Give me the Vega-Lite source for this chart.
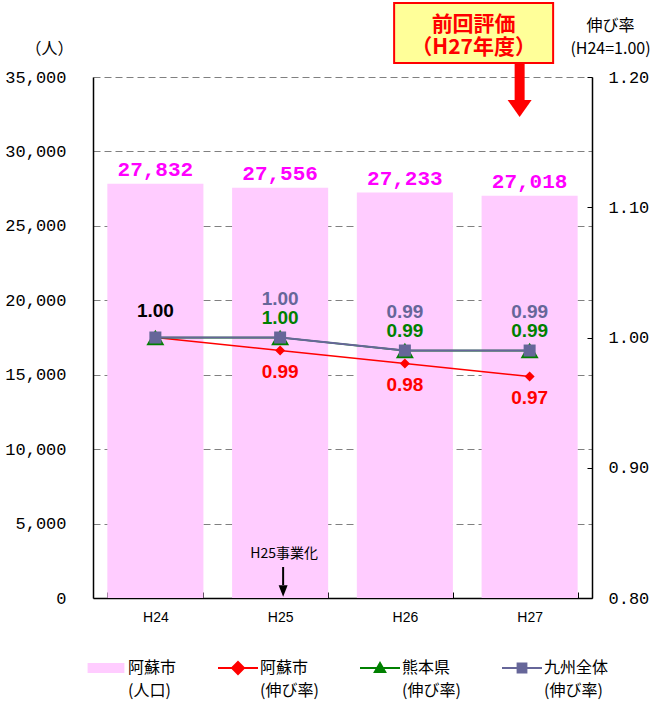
{
  "$schema": "https://vega.github.io/schema/vega-lite/v6.json",
  "width": 499,
  "height": 521,
  "autosize": {"type": "none"},
  "padding": {"left": 93, "top": 77, "right": 65, "bottom": 103},
  "background": "white",
  "config": {
    "view": {"stroke": null},
    "axis": {"labelColor": "#000000", "domainColor": "#000000", "tickColor": "#000000", "titleColor": "#000000", "titleFontWeight": "normal"}
  },
  "datasets": {
    "pop": [
      {"year": "H24", "population": 27832},
      {"year": "H25", "population": 27556},
      {"year": "H26", "population": 27233},
      {"year": "H27", "population": 27018}
    ],
    "rate": [
      {"year": "H24", "series": "阿蘇市(伸び率)", "rate": 1.00},
      {"year": "H25", "series": "阿蘇市(伸び率)", "rate": 0.99},
      {"year": "H26", "series": "阿蘇市(伸び率)", "rate": 0.98},
      {"year": "H27", "series": "阿蘇市(伸び率)", "rate": 0.97},
      {"year": "H24", "series": "熊本県(伸び率)", "rate": 1.00},
      {"year": "H25", "series": "熊本県(伸び率)", "rate": 1.00},
      {"year": "H26", "series": "熊本県(伸び率)", "rate": 0.99},
      {"year": "H27", "series": "熊本県(伸び率)", "rate": 0.99},
      {"year": "H24", "series": "九州全体(伸び率)", "rate": 1.00},
      {"year": "H25", "series": "九州全体(伸び率)", "rate": 1.00},
      {"year": "H26", "series": "九州全体(伸び率)", "rate": 0.99},
      {"year": "H27", "series": "九州全体(伸び率)", "rate": 0.99}
    ]
  },
  "layer": [
    {
      "layer": [
        {
          "data": {"name": "pop"},
          "mark": {"type": "bar", "color": "#FFCCFF"},
          "encoding": {
            "x": {
              "field": "year", "type": "nominal", "sort": null,
              "scale": {"type": "band", "paddingInner": 0.23, "paddingOuter": 0.115},
              "axis": {"title": null, "labelAngle": 0, "labelFont": "Liberation Sans", "labelFontSize": 14, "labelPadding": 18, "tickBand": "extent", "tickSize": -6, "domainWidth": 1.5, "domainColor": "#000000"}
            },
            "y": {
              "field": "population", "type": "quantitative",
              "scale": {"domain": [0, 35000], "nice": false},
              "axis": {
                "values": [0, 5000, 10000, 15000, 20000, 25000, 30000, 35000],
                "format": ",.0f", "ticks": false, "labelPadding": 27,
                "labelFont": "Liberation Mono", "labelFontSize": 17,
                "grid": true, "gridColor": "#808080", "gridDash": [7, 4], "gridWidth": 1,
                "domainWidth": 1.5,
                "title": "（人）", "titleAngle": 0, "titleFont": "Noto Sans CJK JP", "titleFontSize": 16,
                "titleAlign": "center", "titleBaseline": "middle", "titleX": -44, "titleY": -29
              }
            },
            "color": {
              "datum": "阿蘇市(人口)", "type": "nominal",
              "scale": {
                "domain": ["阿蘇市(人口)", "阿蘇市(伸び率)", "熊本県(伸び率)", "九州全体(伸び率)"],
                "range": ["#FFCCFF", "#FF0000", "#008000", "#666699"]
              },
              "legend": {
                "title": null, "orient": "none", "legendX": 5, "legendY": 583,
                "direction": "horizontal", "columns": 4, "columnPadding": 37,
                "symbolSize": 1600, "labelOffset": 14,
                "labelFont": "Noto Sans CJK JP", "labelFontSize": 16, "labelColor": "#000000",
                "labelExpr": "[slice(datum.label, 0, indexof(datum.label, '(')), slice(datum.label, indexof(datum.label, '('))]",
                "encode": {
                  "symbols": {
                    "update": {
                      "shape": {"signal": "datum.value == '阿蘇市(人口)' ? 'M-0.92,-0.25H0.92V0.25H-0.92Z' : datum.value == '阿蘇市(伸び率)' ? 'M-1,0H1M0,-0.3L0.3,0L0,0.3L-0.3,0Z' : datum.value == '熊本県(伸び率)' ? 'M-1,0H1M0,-0.25L0.26,0.2L-0.26,0.2Z' : 'M-1,0H1M-0.22,-0.22H0.22V0.22H-0.22Z'"},
                      "fill": {"scale": "color", "field": "value"},
                      "stroke": {"scale": "color", "field": "value"},
                      "strokeWidth": {"signal": "datum.value == '阿蘇市(人口)' ? 0 : 2"},
                      "opacity": {"value": 1},
                      "fillOpacity": {"value": 1},
                      "strokeOpacity": {"value": 1}
                    }
                  },
                  "labels": {
                    "update": {
                      "lineHeight": {"value": 23}
                    }
                  }
                }
              }
            }
          }
        },
        {
          "data": {"name": "pop"},
          "mark": {"type": "text", "font": "Liberation Mono", "fontSize": 21, "fontWeight": "bold", "color": "#FF00FF", "baseline": "bottom", "dy": -4},
          "encoding": {
            "x": {"field": "year", "type": "nominal", "sort": null, "scale": {"type": "band", "paddingInner": 0.23, "paddingOuter": 0.115}},
            "y": {"field": "population", "type": "quantitative"},
            "text": {"field": "population", "type": "quantitative", "format": ","}
          }
        },
        {
          "data": {"values": [{}]},
          "mark": {"type": "bar", "fill": "#FFFF99", "stroke": "#FF0000", "strokeWidth": 2, "width": 159, "xOffset": -56},
          "encoding": {
            "x": {"datum": "H27", "type": "nominal", "scale": {"type": "band", "paddingInner": 0.23, "paddingOuter": 0.115}},
            "y": {"datum": 39971, "type": "quantitative"},
            "y2": {"datum": 35940}
          }
        },
        {
          "data": {"values": [{}]},
          "mark": {"type": "text", "text": ["前回評価", "（H27年度）"], "font": "Noto Sans CJK JP", "fontSize": 21, "fontWeight": "bold", "color": "#FF0000", "lineHeight": 23, "baseline": "middle", "align": "center", "xOffset": -56},
          "encoding": {
            "x": {"datum": "H27", "type": "nominal", "scale": {"type": "band", "paddingInner": 0.23, "paddingOuter": 0.115}},
            "y": {"datum": 38493, "type": "quantitative"}
          }
        },
        {
          "data": {"values": [{}]},
          "mark": {"type": "rule", "color": "#FF0000", "strokeWidth": 10, "xOffset": -10},
          "encoding": {
            "x": {"datum": "H27", "type": "nominal", "scale": {"type": "band", "paddingInner": 0.23, "paddingOuter": 0.115}},
            "y": {"datum": 35940, "type": "quantitative"},
            "y2": {"datum": 33321}
          }
        },
        {
          "data": {"values": [{}]},
          "mark": {"type": "point", "shape": "M-1,-0.7L1,-0.7L0,0.7Z", "filled": true, "color": "#FF0000", "opacity": 1, "size": 576, "xOffset": -10},
          "encoding": {
            "x": {"datum": "H27", "type": "nominal", "scale": {"type": "band", "paddingInner": 0.23, "paddingOuter": 0.115}},
            "y": {"datum": 32884, "type": "quantitative"}
          }
        },
        {
          "data": {"values": [{}]},
          "mark": {"type": "text", "text": "H25事業化", "font": "Noto Sans CJK JP", "fontSize": 14, "color": "#000000", "baseline": "middle", "align": "center", "xOffset": 4},
          "encoding": {
            "x": {"datum": "H25", "type": "nominal", "scale": {"type": "band", "paddingInner": 0.23, "paddingOuter": 0.115}},
            "y": {"datum": 2956, "type": "quantitative"}
          }
        },
        {
          "data": {"values": [{}]},
          "mark": {"type": "rule", "color": "#000000", "strokeWidth": 2, "xOffset": 3},
          "encoding": {
            "x": {"datum": "H25", "type": "nominal", "scale": {"type": "band", "paddingInner": 0.23, "paddingOuter": 0.115}},
            "y": {"datum": 2083, "type": "quantitative"},
            "y2": {"datum": 873}
          }
        },
        {
          "data": {"values": [{}]},
          "mark": {"type": "point", "shape": "M-1,-1.3L1,-1.3L0,1.3Z", "filled": true, "color": "#000000", "opacity": 1, "size": 81, "xOffset": 3},
          "encoding": {
            "x": {"datum": "H25", "type": "nominal", "scale": {"type": "band", "paddingInner": 0.23, "paddingOuter": 0.115}},
            "y": {"datum": 470, "type": "quantitative"}
          }
        }
      ]
    },
    {
      "data": {"name": "rate"},
      "layer": [
        {
          "mark": {"type": "line"},
          "encoding": {
            "x": {"field": "year", "type": "nominal", "sort": null, "scale": {"type": "band", "paddingInner": 0.23, "paddingOuter": 0.115}},
            "y": {
              "field": "rate", "type": "quantitative",
              "scale": {"domain": [0.8, 1.2], "nice": false, "zero": false},
              "axis": {
                "orient": "right", "values": [0.8, 0.9, 1.0, 1.1, 1.2], "format": ".2f",
                "tickSize": -5, "labelPadding": 21, "grid": false,
                "labelFont": "Liberation Mono", "labelFontSize": 17, "domainWidth": 1.5,
                "title": ["伸び率", "(H24=1.00)"], "titleAngle": 0, "titleFont": "Noto Sans CJK JP", "titleFontSize": 16,
                "titleAlign": "center", "titleBaseline": "top", "titleLineHeight": 23, "titleX": 18, "titleY": -60
              }
            },
            "color": {"field": "series", "type": "nominal", "sort": null, "legend": {"title": null}},
            "strokeWidth": {"field": "series", "type": "nominal", "scale": {"domain": ["阿蘇市(伸び率)", "熊本県(伸び率)", "九州全体(伸び率)"], "range": [1.5, 2, 2]}, "legend": null}
          }
        },
        {
          "transform": [{"filter": "datum.series == '阿蘇市(伸び率)'"}],
          "mark": {"type": "point", "shape": "diamond", "size": 100, "filled": true, "opacity": 1, "color": "#FF0000"},
          "encoding": {
            "x": {"field": "year", "type": "nominal", "sort": null, "scale": {"type": "band", "paddingInner": 0.23, "paddingOuter": 0.115}},
            "y": {"field": "rate", "type": "quantitative"}
          }
        },
        {
          "transform": [{"filter": "datum.series == '熊本県(伸び率)'"}],
          "mark": {"type": "point", "shape": "triangle-up", "size": 324, "filled": true, "opacity": 1, "color": "#008000"},
          "encoding": {
            "x": {"field": "year", "type": "nominal", "sort": null, "scale": {"type": "band", "paddingInner": 0.23, "paddingOuter": 0.115}},
            "y": {"field": "rate", "type": "quantitative"}
          }
        },
        {
          "transform": [{"filter": "datum.series == '九州全体(伸び率)'"}],
          "mark": {"type": "point", "shape": "square", "size": 144, "filled": true, "opacity": 1, "color": "#666699"},
          "encoding": {
            "x": {"field": "year", "type": "nominal", "sort": null, "scale": {"type": "band", "paddingInner": 0.23, "paddingOuter": 0.115}},
            "y": {"field": "rate", "type": "quantitative"}
          }
        },
        {
          "transform": [{"filter": "datum.series == '阿蘇市(伸び率)' && datum.year != 'H24'"}],
          "mark": {"type": "text", "font": "Liberation Sans", "fontSize": 19, "fontWeight": "bold", "color": "#FF0000", "baseline": "middle", "dy": 21},
          "encoding": {
            "x": {"field": "year", "type": "nominal", "sort": null, "scale": {"type": "band", "paddingInner": 0.23, "paddingOuter": 0.115}},
            "y": {"field": "rate", "type": "quantitative"},
            "text": {"field": "rate", "type": "quantitative", "format": ".2f"}
          }
        },
        {
          "transform": [{"filter": "datum.series == '阿蘇市(伸び率)' && datum.year == 'H24'"}],
          "mark": {"type": "text", "font": "Liberation Sans", "fontSize": 19, "fontWeight": "bold", "color": "#000000", "baseline": "middle", "dy": -27},
          "encoding": {
            "x": {"field": "year", "type": "nominal", "sort": null, "scale": {"type": "band", "paddingInner": 0.23, "paddingOuter": 0.115}},
            "y": {"field": "rate", "type": "quantitative"},
            "text": {"field": "rate", "type": "quantitative", "format": ".2f"}
          }
        },
        {
          "transform": [{"filter": "datum.series == '熊本県(伸び率)' && datum.year != 'H24'"}],
          "mark": {"type": "text", "font": "Liberation Sans", "fontSize": 19, "fontWeight": "bold", "color": "#008000", "baseline": "middle", "dy": -20},
          "encoding": {
            "x": {"field": "year", "type": "nominal", "sort": null, "scale": {"type": "band", "paddingInner": 0.23, "paddingOuter": 0.115}},
            "y": {"field": "rate", "type": "quantitative"},
            "text": {"field": "rate", "type": "quantitative", "format": ".2f"}
          }
        },
        {
          "transform": [{"filter": "datum.series == '九州全体(伸び率)' && datum.year != 'H24'"}],
          "mark": {"type": "text", "font": "Liberation Sans", "fontSize": 19, "fontWeight": "bold", "color": "#666699", "baseline": "middle", "dy": -39},
          "encoding": {
            "x": {"field": "year", "type": "nominal", "sort": null, "scale": {"type": "band", "paddingInner": 0.23, "paddingOuter": 0.115}},
            "y": {"field": "rate", "type": "quantitative"},
            "text": {"field": "rate", "type": "quantitative", "format": ".2f"}
          }
        }
      ]
    }
  ],
  "resolve": {"scale": {"y": "independent"}, "axis": {"y": "independent"}}
}
